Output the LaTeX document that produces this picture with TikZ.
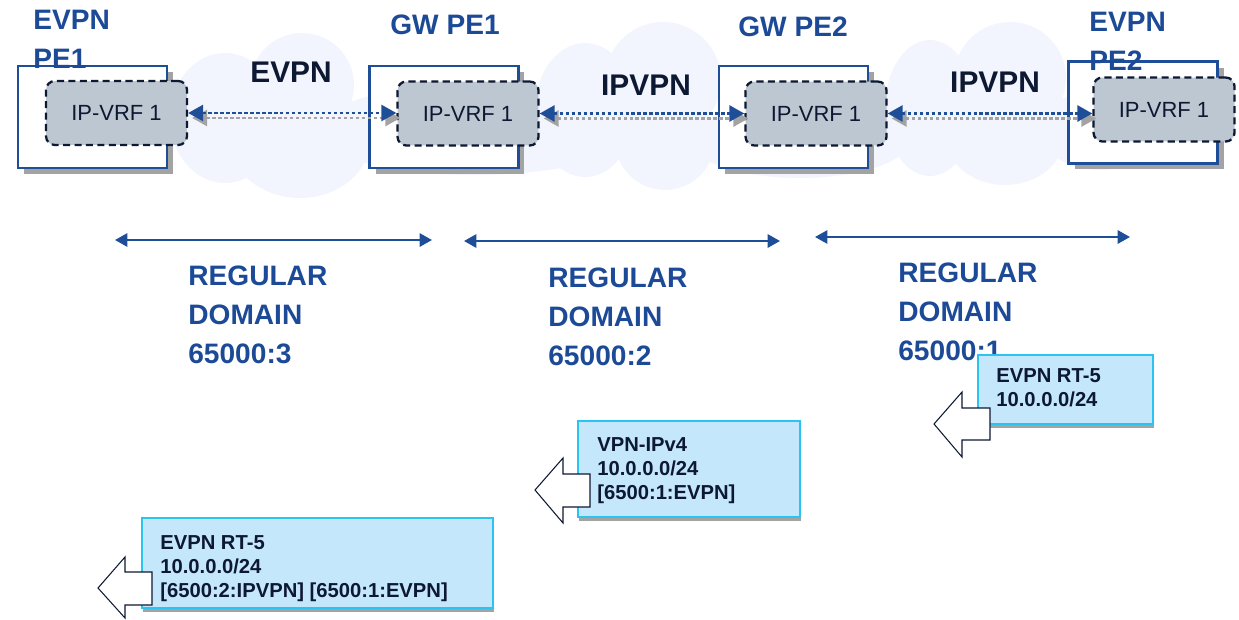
\documentclass[tikz,border=0pt]{standalone}
\usepackage{fontspec}
\setmainfont{Liberation Sans}
\usepackage{xcolor}
\definecolor{labelblue}{HTML}{1C4A97}
\definecolor{boxblue}{HTML}{1F4E99}
\definecolor{navy}{HTML}{0D1833}
\definecolor{cloudbg}{HTML}{F2F5FE}
\definecolor{vrfgray}{HTML}{BCC7D1}
\definecolor{shade}{HTML}{A3A3A3}
\definecolor{callfill}{HTML}{C5E7FC}
\definecolor{callline}{HTML}{2BC3F0}
\usepackage{tikz}
\usetikzlibrary{positioning,arrows.meta,shadows,calc}

\begin{document}
\begin{tikzpicture}[x=0.02cm,y=-0.02cm,
		router/.style={draw=boxblue,line width=1.2pt,fill=white,inner sep=0,minimum width=2.98cm,minimum height=2.04cm,
			drop shadow={shadow xshift=0.12cm,shadow yshift=-0.12cm,fill=shade,opacity=1}},
		vrf/.style={draw=navy,fill=vrfgray,line width=1.3pt,dash pattern=on 4pt off 2.5pt,rounded corners=5pt,
			minimum width=2.82cm,minimum height=1.28cm,inner sep=0,text=navy,font=\fontsize{12.5}{15}\selectfont},
		link/.style={draw=boxblue,line width=1.7pt,dash pattern=on 2pt off 1.4pt,
			{Triangle[length=8.5pt,width=9pt]}-{Triangle[length=8.5pt,width=9pt]}},
		linkshade/.style={link,draw=shade,transform canvas={xshift=0.08cm,yshift=-0.1cm}},
		span/.style={draw=boxblue,line width=1.3pt,{Triangle[length=7pt,width=7.5pt]}-{Triangle[length=7pt,width=7.5pt]}},
		pelabel/.style={text=labelblue,font=\fontsize{16}{22}\selectfont\bfseries,align=left,inner sep=0,anchor=north west},
		cloudlabel/.style={text=navy,font=\fontsize{17}{20}\selectfont\bfseries,inner sep=0},
		callout/.style={fill=callfill,draw=callline,line width=1pt,inner sep=0,anchor=north west,
			drop shadow={shadow xshift=0.03cm,shadow yshift=-0.09cm,fill=shade,opacity=1}},
		calltext/.style={text=navy,font=\fontsize{11.5}{13.7}\selectfont\bfseries,align=left,inner sep=0,anchor=north west},
		blockarrow/.style={draw=navy,fill=white,line width=0.6pt}]
	\useasboundingbox (0,0) rectangle (1239,619);
	
	%%% clouds
	\fill[cloudbg] (225,118) ellipse [x radius=55,y radius=65];
	\fill[cloudbg] (302,85) ellipse [x radius=52,y radius=52];
	\fill[cloudbg] (300,140) ellipse [x radius=70,y radius=58];
	\fill[cloudbg] (475,130) ellipse [x radius=160,y radius=45];
	\fill[cloudbg] (585,110) ellipse [x radius=50,y radius=67];
	\fill[cloudbg] (663,80) ellipse [x radius=58,y radius=58];
	\fill[cloudbg] (665,140) ellipse [x radius=50,y radius=50];
	\fill[cloudbg] (800,140) ellipse [x radius=110,y radius=38];
	\fill[cloudbg] (930,108) ellipse [x radius=45,y radius=68];
	\fill[cloudbg] (1010,78) ellipse [x radius=56,y radius=56];
	\fill[cloudbg] (1005,135) ellipse [x radius=60,y radius=50];
	\fill[cloudbg] (1100,130) ellipse [x radius=60,y radius=40];
	
	%%% routers
	\node[router] (pe1) at (92.5,117) {};
	\node[router] (gw1) at (444,117) {};
	\node[router] (gw2) at (793.5,117) {};
	\node[router] (pe2) at (1143,112.5) {};
	
	\node[vrf] (pe1vrf) at (116.5,113) {IP-VRF 1};
	\node[vrf] (gw1vrf) at (468,113.5) {IP-VRF 1};
	\node[vrf] (gw2vrf) at (816,113.5) {IP-VRF 1};
	\node[vrf] (pe2vrf) at (1164,109.5) {IP-VRF 1};
	
	%%% links
	\draw[linkshade] (pe1vrf.east) -- (pe1vrf.east -| gw1vrf.west);
	\draw[linkshade] (gw1vrf.east) -- (gw1vrf.east -| gw2vrf.west);
	\draw[linkshade] (gw2vrf.east) -- (gw2vrf.east -| pe2vrf.west);
	\draw[link] (pe1vrf.east) -- (pe1vrf.east -| gw1vrf.west);
	\draw[link] (gw1vrf.east) -- (gw1vrf.east -| gw2vrf.west);
	\draw[link] (gw2vrf.east) -- (gw2vrf.east -| pe2vrf.west);
	
	\node[cloudlabel] (evpn) at (291,72) {EVPN};
	\node[cloudlabel] (ipvpna) at (646,85) {IPVPN};
	\node[cloudlabel] (ipvpnb) at (995,82) {IPVPN};
	
	\node[pelabel] (pe1lbl) at (33,10) {EVPN\\PE1};
	\node[pelabel] (gw1lbl) at (390,15) {GW PE1};
	\node[pelabel] (gw2lbl) at (738,17) {GW PE2};
	\node[pelabel] (pe2lbl) at (1089,12) {EVPN\\PE2};
	
	%%% domains
	\coordinate (d3l) at (115,240);
	\coordinate (d3r) at (432,240);
	\coordinate (d2l) at (464,241);
	\coordinate (d2r) at (780,241);
	\coordinate (d1l) at (815,237);
	\coordinate (d1r) at (1130,237);
	\draw[span] (d3l) -- (d3r);
	\draw[span] (d2l) -- (d2r);
	\draw[span] (d1l) -- (d1r);
	
	\node[pelabel] (dom3) at (188,266) {REGULAR\\DOMAIN\\65000:3};
	\node[pelabel] (dom2) at (548,268) {REGULAR\\DOMAIN\\65000:2};
	\node[pelabel] (dom1) at (898,263) {REGULAR\\DOMAIN\\65000:1};
	
	%%% route boxes
	\node[callout,minimum width=3.5cm,minimum height=1.38cm] (rtfive) at (977,354) {};
	\node[calltext,below right=0.28cm and 0.38cm of rtfive.north west] (rtfivetxt) {EVPN RT-5\\10.0.0.0/24};
	\draw[blockarrow] (934,424) -- (962,392) -- (962,408) -- (990,408) -- (990,440) -- (962,440) -- (962,457) -- cycle;
	
	\node[callout,minimum width=4.44cm,minimum height=1.92cm] (vpnv4) at (577,420) {};
	\node[calltext,below right=0.34cm and 0.4cm of vpnv4.north west] (vpnv4txt) {VPN-IPv4\\10.0.0.0/24\\{}[6500:1:EVPN]};
	\draw[blockarrow] (535,490) -- (563,458) -- (563,474) -- (590,474) -- (590,507) -- (563,507) -- (563,523) -- cycle;
	
	\node[callout,minimum width=7.02cm,minimum height=1.8cm] (rtfiveb) at (141,517) {};
	\node[calltext,below right=0.36cm and 0.38cm of rtfiveb.north west] (rtfivebtxt) {EVPN RT-5\\10.0.0.0/24\\{}[6500:2:IPVPN] [6500:1:EVPN]};
	\draw[blockarrow] (98,588) -- (125,557) -- (125,572) -- (152,572) -- (152,605) -- (125,605) -- (125,618) -- cycle;
	
\end{tikzpicture}
\end{document}
